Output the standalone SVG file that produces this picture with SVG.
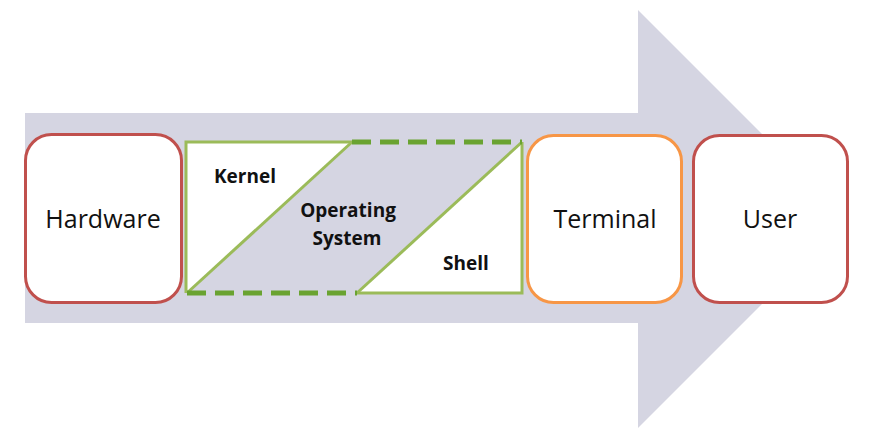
<svg xmlns="http://www.w3.org/2000/svg" width="877" height="439" viewBox="0 0 877 439">
<style>
.box{fill:#fff;stroke-width:3}
.red{stroke:#c0504d}
.orange{stroke:#f79646}
.lbl{font-family:"Open Sans","Liberation Sans",sans-serif;font-size:25px;fill:#111;text-anchor:middle}
.os{font-family:"Open Sans","Liberation Sans",sans-serif;font-size:19px;font-weight:bold;fill:#111;text-anchor:middle}
.grn{stroke:#9bbb59;stroke-width:3;fill:none}
.dash{stroke:#6aa331;stroke-width:5;stroke-dasharray:19 9;fill:none}
</style>
<rect width="877" height="439" fill="#fff"/>
<g id="arrow">
<polygon points="25,113 638,113 638,10 847,219 638,428 638,323 25,323" fill="#d5d5e2"/>
</g>
<g id="connectors"></g>
<g id="hardware">
<rect class="box red" x="25.5" y="134.5" width="156" height="168" rx="26"/>
<text class="lbl" x="103" y="228">Hardware</text>
</g>
<g id="os">
<polygon points="186,142 352,142 187,293" fill="#fff"/>
<polygon points="522,142 522,293 357,293" fill="#fff"/>
<polyline class="grn" points="352,142 186,142 186,293"/>
<polyline class="grn" points="357,293 522,293 522,142"/>
<line class="grn" x1="187" y1="293" x2="352" y2="142"/>
<line class="grn" x1="357" y1="293" x2="522" y2="142"/>
<line class="dash" x1="352" y1="142" x2="522" y2="142"/>
<line class="dash" x1="187" y1="293" x2="357" y2="293"/>
<text class="os" x="245" y="183">Kernel</text>
<text class="os" x="348" y="217">Operating</text>
<text class="os" x="347" y="245">System</text>
<text class="os" x="466" y="270">Shell</text>
</g>
<g id="terminal">
<rect class="box orange" x="527.5" y="135.5" width="154" height="167" rx="26"/>
<text class="lbl" x="605" y="228">Terminal</text>
</g>
<g id="user">
<rect class="box red" x="693.5" y="135.5" width="154" height="167" rx="26"/>
<text class="lbl" x="770" y="228">User</text>
</g>
</svg>
